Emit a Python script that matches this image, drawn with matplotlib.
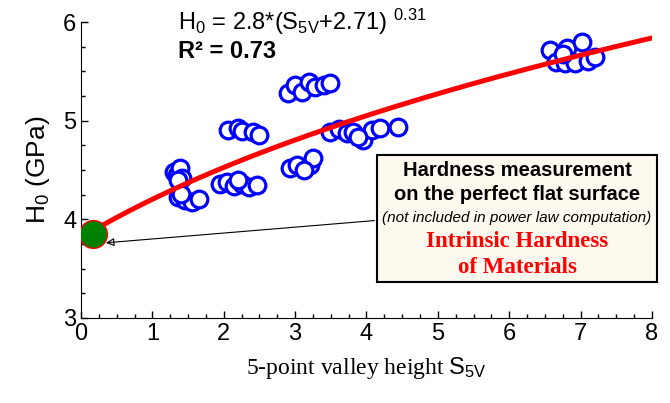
import matplotlib
matplotlib.use("Agg")
import matplotlib.pyplot as plt
import numpy as np
from matplotlib.ticker import MultipleLocator

plt.rcParams['font.family'] = ['Liberation Sans', 'DejaVu Sans']
plt.rcParams['mathtext.fontset'] = 'custom'
plt.rcParams['mathtext.rm'] = 'Liberation Sans'
plt.rcParams['mathtext.it'] = 'Liberation Sans'
plt.rcParams['mathtext.bf'] = 'Liberation Sans:bold'

# measured points (S5V, H0)
s5v = [1.30, 1.34, 1.38, 1.42, 1.36,
       1.36, 1.45, 1.55, 1.65, 1.40,
       1.95, 2.05, 2.15, 2.25, 2.35, 2.46, 2.20,
       2.06, 2.20, 2.25, 2.41, 2.50,
       2.90, 3.00, 3.10, 3.20, 3.28, 3.40, 3.49,
       2.93, 3.03, 3.21, 3.25, 3.12,
       3.49, 3.62, 3.73, 3.81, 3.95, 4.08, 4.19, 4.44, 3.88,
       6.57, 6.65, 6.81, 6.78, 6.92, 7.02, 7.10, 7.20, 6.75]
h0 = [4.48, 4.45, 4.52, 4.42, 4.40,
      4.23, 4.20, 4.18, 4.21, 4.26,
      4.36, 4.38, 4.34, 4.36, 4.33, 4.35, 4.40,
      4.91, 4.93, 4.90, 4.89, 4.86,
      5.28, 5.36, 5.29, 5.39, 5.34, 5.36, 5.38,
      4.52, 4.55, 4.55, 4.62, 4.50,
      4.89, 4.92, 4.88, 4.89, 4.80, 4.91, 4.93, 4.94, 4.84,
      5.72, 5.60, 5.74, 5.59, 5.59, 5.80, 5.61, 5.65, 5.68]

# power law fit H0 = a*(S+b)^c
fit_a, fit_b, fit_c = 2.8, 2.71, 0.31
flat_s, flat_h = 0.17, 3.85

fig = plt.figure(figsize=(6.7, 4.03), dpi=100)
ax = fig.add_axes([0.121, 0.211, 0.852, 0.734])

xs = np.linspace(0, 8, 200)
ax.plot(xs, fit_a * (xs + fit_b) ** fit_c, color='red', lw=3.6, zorder=3)
ax.plot(s5v, h0, 'o', ms=12, mfc='white', mec='blue', mew=2.3, zorder=2)
ax.plot(flat_s, flat_h, 'o', ms=20, mfc='green', mec='red', mew=1.0, zorder=4)

ax.set_xlim(0, 8)
ax.set_ylim(3, 6)
ax.xaxis.set_major_locator(MultipleLocator(1))
ax.xaxis.set_minor_locator(MultipleLocator(0.25))
ax.yaxis.set_major_locator(MultipleLocator(1))
ax.yaxis.set_minor_locator(MultipleLocator(0.25))
ax.tick_params(which='both', direction='in', labelsize=17, width=1)
ax.tick_params(which='major', length=5)
ax.tick_params(which='minor', length=3)
ax.spines['top'].set_visible(False)
ax.spines['right'].set_visible(False)

ax.set_xlabel('5-point valley height $\\mathrm{S_{5V}}$', family='Liberation Serif',
              fontsize=17, labelpad=7)
ax.set_ylabel('$\\mathrm{H_0}$ (GPa)', fontsize=19, labelpad=8)

ax.text(1.36, 6.0, '$\\mathrm{H_0}$ = 2.8*($\\mathrm{S_{5V}}$+2.71) $\\mathrm{^{0.31}}$',
        fontsize=17, va='center', ha='left')
ax.text(1.36, 5.70, 'R² = 0.73', fontsize=17, fontweight='bold', va='center', ha='left')

# annotation box
bx0, bx1, by0, by1 = 4.15, 8.07, 3.36, 4.65
ax.annotate('', xy=(0.31, 3.76), xytext=(bx0, 3.99),
            arrowprops=dict(arrowstyle='-|>', color='black', lw=0.8,
                            mutation_scale=12, fill=False), zorder=5)
box = plt.Rectangle((bx0, by0), bx1 - bx0, by1 - by0, facecolor='#fdf9ef',
                    edgecolor='black', lw=1.5, zorder=5, clip_on=False)
ax.add_patch(box)
cx = (bx0 + bx1) / 2
ax.text(cx, 4.50, 'Hardness measurement', fontsize=14.5, fontweight='bold',
        ha='center', va='center', zorder=6)
ax.text(cx, 4.25, 'on the perfect flat surface', fontsize=14.5, fontweight='bold',
        ha='center', va='center', zorder=6)
ax.text(cx, 4.01, '(not included in power law computation)', fontsize=11, style='italic',
        ha='center', va='center', zorder=6)
ax.text(cx, 3.78, 'Intrinsic Hardness', fontsize=16.5, fontweight='bold', color='red',
        family='Liberation Serif', ha='center', va='center', zorder=6)
ax.text(cx, 3.51, 'of Materials', fontsize=16.5, fontweight='bold', color='red',
        family='Liberation Serif', ha='center', va='center', zorder=6)

fig.savefig('out.png', dpi=100)
